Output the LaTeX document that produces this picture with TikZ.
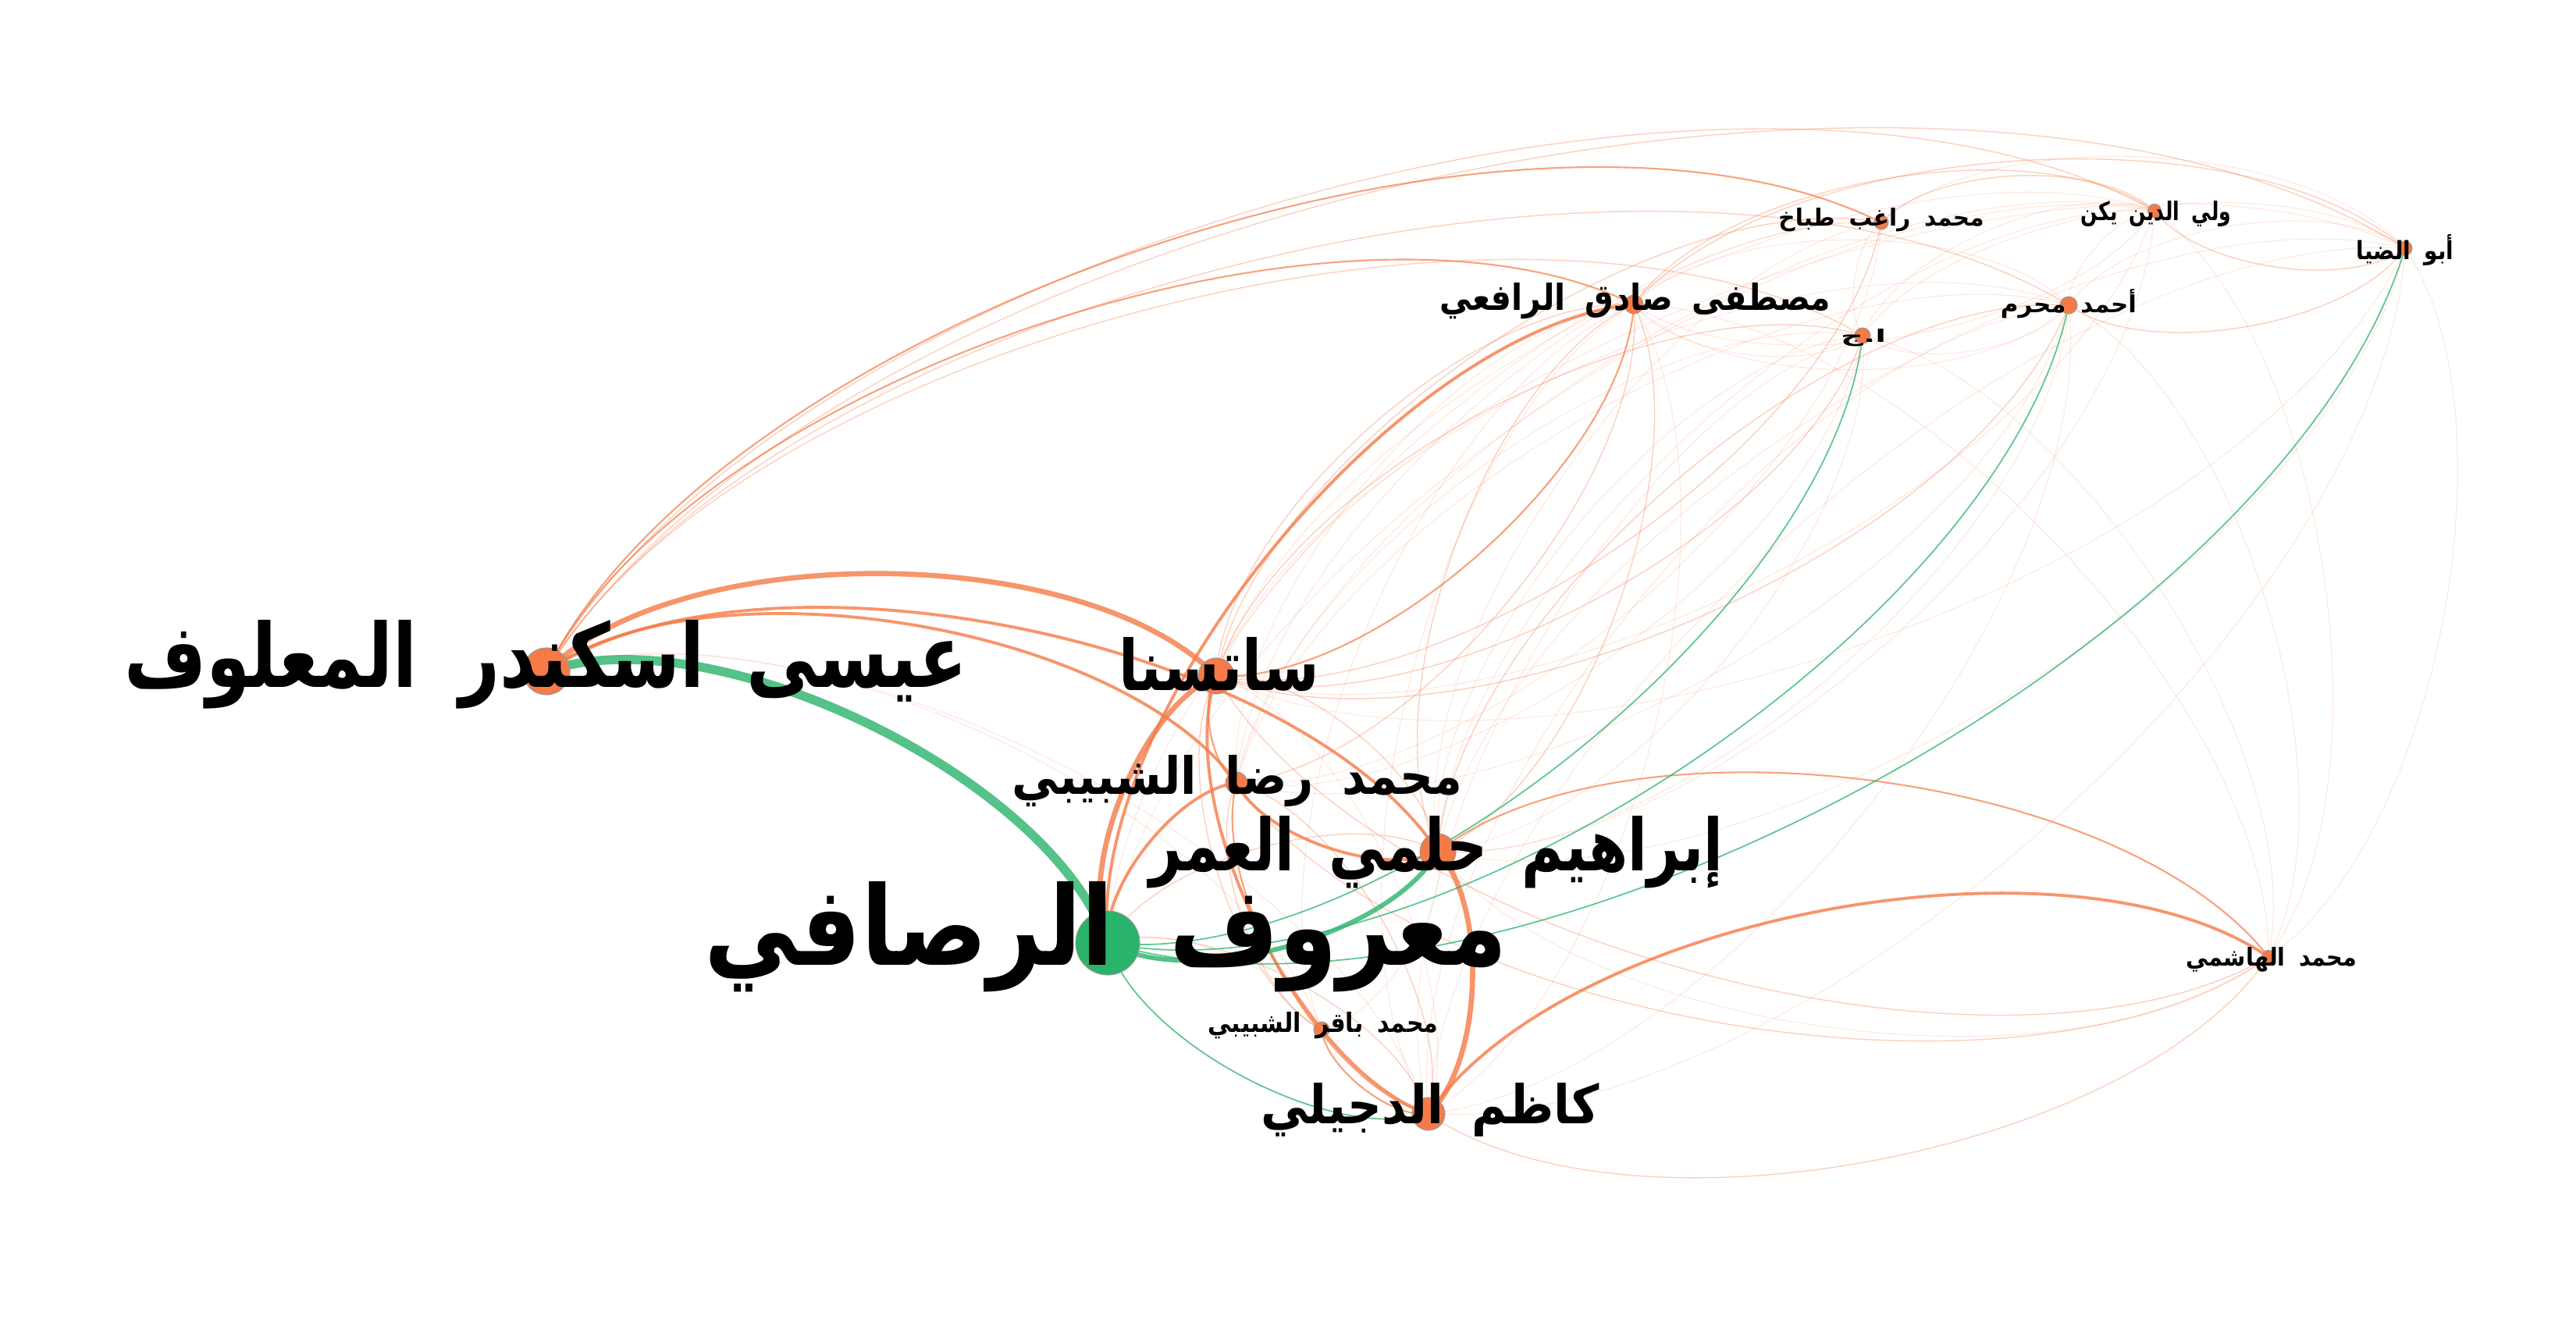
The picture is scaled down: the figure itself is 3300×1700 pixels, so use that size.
\documentclass[tikz,border=0pt]{standalone}
\usepackage{fontspec}
\usepackage{graphicx}
\usetikzlibrary{backgrounds}
\newfontfamily\arabicfont[Script=Arabic]{DejaVu Sans}
\TeXXeTstate=1
\definecolor{gor}{HTML}{F47B47}
\definecolor{ggr}{HTML}{29B36B}
\newcommand\arlab[3]{\resizebox{#1}{#2}{\arabicfont\bfseries #3}}
\newcommand\wsp{\hspace{0.6em}}
\newcommand\edg[3]{\draw[#1] (#2.center) to[cv] (#3.center);}
\tikzset{
  cv/.style={bend right=45, looseness=0.72},
  eo/.style={draw=gor, line cap=round},
  eg/.style={draw=ggr, line cap=round},
  gthick/.style={eg, line width=3.3pt, draw opacity=0.8},
  gmed/.style={eg, line width=1.7pt, draw opacity=0.8},
  gthin/.style={eg, line width=0.5pt, draw opacity=0.75},
  othick/.style={eo, line width=1.9pt, draw opacity=0.8},
  omed/.style={eo, line width=1.1pt, draw opacity=0.8},
  othin/.style={eo, line width=0.6pt, draw opacity=0.7},
  olight/.style={eo, line width=0.4pt, draw opacity=0.35},
  ofaint/.style={eo, line width=0.3pt, draw opacity=0.18},
  onode/.style={circle, inner sep=0pt, fill=gor, draw=black!40, line width=0.3pt},
  gnode/.style={circle, inner sep=0pt, fill=ggr, draw=black!40, line width=0.3pt},
  lab/.style={inner sep=0pt, anchor=base, text=black},
}
\begin{document}
\begin{tikzpicture}[x=0.01cm, y=-0.01cm]
\useasboundingbox (0,0) rectangle (3300,1700);
% nodes
\node[gnode, minimum size=0.82cm] (rus) at (1419,1208) {};
\node[onode, minimum size=0.60cm] (maa) at (700,860) {};
\node[onode, minimum size=0.46cm] (sat) at (1558,866) {};
\node[onode, minimum size=0.28cm] (rid) at (1584,1003) {};
\node[onode, minimum size=0.46cm] (ibr) at (1842,1091) {};
\node[onode, minimum size=0.20cm] (baq) at (1693,1319) {};
\node[onode, minimum size=0.42cm] (kaz) at (1830,1427) {};
\node[onode, minimum size=0.17cm] (has) at (2906,1226) {};
\node[onode, minimum size=0.24cm] (mus) at (2093,390) {};
\node[onode, minimum size=0.20cm] (aj) at (2386,430) {};
\node[onode, minimum size=0.22cm] (muh) at (2650,391) {};
\node[onode, minimum size=0.18cm] (rag) at (2410,285) {};
\node[onode, minimum size=0.17cm] (wal) at (2760,270) {};
\node[onode, minimum size=0.18cm] (abu) at (3081,318) {};
% labels
\node[lab] (lrus) at (1417,1236) {\arlab{10.28cm}{1.07cm}{\beginR معروف\wsp الرصافي\endR}};
\node[lab] (lmaa) at (699,880) {\arlab{10.79cm}{0.86cm}{\beginR عيسى\wsp اسكندر\wsp المعلوف\endR}};
\node[lab] (lsat) at (1562,884) {\arlab{2.57cm}{0.68cm}{\beginR ساتسنا\endR}};
\node[lab] (lrid) at (1585,1017) {\arlab{5.76cm}{0.50cm}{\beginR محمد\wsp رضا\wsp الشبيبي\endR}};
\node[lab] (libr) at (1840,1115) {\arlab{7.35cm}{0.70cm}{\beginR إبراهيم\wsp حلمي\wsp العمر\endR}};
\node[lab] (lbaq) at (1695,1322) {\arlab{2.95cm}{0.26cm}{\beginR محمد\wsp باقر\wsp الشبيبي\endR}};
\node[lab] (lkaz) at (1832,1439) {\arlab{4.33cm}{0.52cm}{\beginR كاظم\wsp الدجيلي\endR}};
\node[lab] (lhas) at (2910,1237) {\arlab{2.19cm}{0.24cm}{\beginR محمد\wsp الهاشمي\endR}};
\node[lab] (lmus) at (2095,397) {\arlab{5.00cm}{0.35cm}{\beginR مصطفى\wsp صادق\wsp الرافعي\endR}};
\node[lab] (laj) at (2387,438) {\arlab{0.58cm}{0.17cm}{\beginR ا.ج\endR}};
\node[lab] (lmuh) at (2650,400) {\arlab{1.74cm}{0.30cm}{\beginR أحمد\wsp محرم\endR}};
\node[lab] (lrag) at (2410,290) {\arlab{2.63cm}{0.23cm}{\beginR محمد\wsp راغب\wsp طباخ\endR}};
\node[lab] (lwal) at (2762,282) {\arlab{1.92cm}{0.25cm}{\beginR ولي\wsp الدين\wsp يكن\endR}};
\node[lab] (labu) at (3081,332) {\arlab{1.25cm}{0.32cm}{\beginR أبو\wsp الضيا\endR}};
% edges
\begin{scope}[on background layer]
% faint
\edg{ofaint}{wal}{aj}
\edg{ofaint}{wal}{muh}
\edg{ofaint}{mus}{wal}
\edg{ofaint}{abu}{rag}
\edg{ofaint}{abu}{muh}
\edg{ofaint}{abu}{aj}
\edg{ofaint}{mus}{muh}
\edg{ofaint}{aj}{muh}
\edg{ofaint}{rag}{aj}
\edg{ofaint}{mus}{aj}
\edg{ofaint}{muh}{mus}
\edg{ofaint}{mus}{rid}
\edg{ofaint}{mus}{kaz}
\edg{ofaint}{mus}{baq}
\edg{ofaint}{aj}{rid}
\edg{ofaint}{aj}{ibr}
\edg{ofaint}{aj}{kaz}
\edg{ofaint}{rag}{rid}
\edg{ofaint}{rag}{ibr}
\edg{ofaint}{rag}{rus}
\edg{ofaint}{muh}{sat}
\edg{ofaint}{muh}{rid}
\edg{ofaint}{muh}{kaz}
\edg{ofaint}{wal}{sat}
\edg{ofaint}{wal}{rid}
\edg{ofaint}{wal}{ibr}
\edg{ofaint}{wal}{rus}
\edg{ofaint}{abu}{sat}
\edg{ofaint}{abu}{ibr}
\edg{ofaint}{abu}{kaz}
\edg{ofaint}{sat}{abu}
\edg{ofaint}{sat}{wal}
\edg{ofaint}{rid}{aj}
\edg{ofaint}{rid}{muh}
\edg{ofaint}{rid}{rag}
\edg{ofaint}{ibr}{aj}
\edg{ofaint}{ibr}{muh}
\edg{ofaint}{ibr}{abu}
\edg{ofaint}{ibr}{wal}
\edg{ofaint}{has}{abu}
\edg{ofaint}{has}{muh}
\edg{ofaint}{has}{aj}
\edg{ofaint}{has}{wal}
\edg{ofaint}{has}{mus}
\edg{ofaint}{ibr}{has}
\edg{ofaint}{baq}{rus}
\edg{ofaint}{baq}{ibr}
\edg{ofaint}{kaz}{sat}
\edg{ofaint}{kaz}{mus}
\edg{ofaint}{kaz}{muh}
\edg{ofaint}{kaz}{abu}
\edg{ofaint}{kaz}{maa}
\edg{ofaint}{baq}{maa}
% light
\edg{olight}{wal}{mus}
\edg{olight}{wal}{rag}
\edg{olight}{abu}{mus}
\edg{olight}{wal}{abu}
\edg{olight}{muh}{abu}
\edg{olight}{mus}{sat}
\edg{olight}{mus}{ibr}
\edg{olight}{aj}{sat}
\edg{olight}{rag}{sat}
\edg{olight}{muh}{ibr}
\edg{olight}{sat}{muh}
\edg{olight}{sat}{rag}
\edg{olight}{sat}{aj}
\edg{olight}{rid}{mus}
\edg{olight}{ibr}{mus}
\edg{olight}{kaz}{has}
\edg{olight}{rid}{has}
\edg{olight}{sat}{has}
\edg{olight}{sat}{baq}
\edg{olight}{rid}{baq}
\edg{olight}{kaz}{rus}
\edg{olight}{ibr}{rus}
\edg{olight}{ibr}{sat}
\edg{olight}{kaz}{rid}
\edg{olight}{muh}{maa}
\edg{olight}{aj}{maa}
\edg{olight}{wal}{maa}
\edg{olight}{abu}{maa}
% thin
\edg{othin}{has}{ibr}
\edg{othin}{rid}{kaz}
\edg{othin}{sat}{mus}
\edg{othin}{sat}{rid}
\edg{othin}{mus}{maa}
\edg{othin}{rag}{maa}
\edg{othin}{baq}{kaz}
% medium
\edg{omed}{mus}{rus}
\edg{omed}{rid}{maa}
\edg{omed}{ibr}{maa}
\edg{omed}{rid}{rus}
\edg{omed}{rid}{ibr}
\edg{omed}{has}{kaz}
\edg{omed}{sat}{kaz}
% thick
\edg{othick}{sat}{maa}
\edg{othick}{sat}{rus}
\edg{othick}{kaz}{ibr}
% green
\edg{gthin}{rus}{aj}
\edg{gthin}{rus}{muh}
\edg{gthin}{rus}{abu}
\edg{gthin}{rus}{kaz}
\edg{gmed}{rus}{ibr}
\edg{gthick}{rus}{maa}
\end{scope}
\end{tikzpicture}
\end{document}
